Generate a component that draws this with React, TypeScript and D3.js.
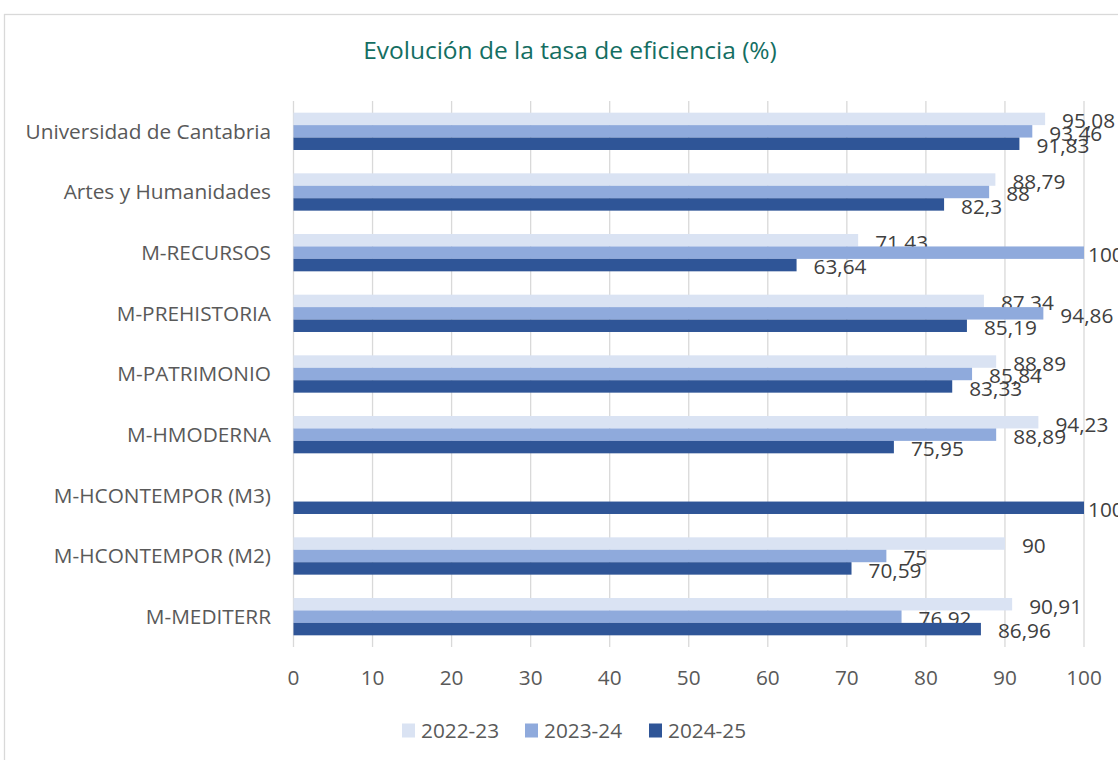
import React, { useEffect, useRef } from "react";
import * as d3 from "d3";

const categories = [
  "Universidad de Cantabria",
  "Artes y Humanidades",
  "M-RECURSOS",
  "M-PREHISTORIA",
  "M-PATRIMONIO",
  "M-HMODERNA",
  "M-HCONTEMPOR (M3)",
  "M-HCONTEMPOR (M2)",
  "M-MEDITERR",
];

const seriesNames = ["2022-23", "2023-24", "2024-25"];

const values2223 = [95.08, 88.79, 71.43, 87.34, 88.89, 94.23, null, 90, 90.91];
const values2324 = [93.46, 88, 100, 94.86, 85.84, 88.89, null, 75, 76.92];
const values2425 = [91.83, 82.3, 63.64, 85.19, 83.33, 75.95, 100, 70.59, 86.96];

const xTicks = [0, 10, 20, 30, 40, 50, 60, 70, 80, 90, 100];

const colors = ["#DAE3F3", "#8FAADC", "#2F5597"];

const W = 1118;
const H = 760;
const FONT = "'Open Sans', 'Segoe UI', sans-serif";
const FS = 20.8;

const App = () => {
  const svgRef = useRef<SVGSVGElement>(null);

  useEffect(() => {
    const svg = d3.select(svgRef.current);
    svg.selectAll("*").remove();

    const allSeries = [values2223, values2324, values2425];
    const margin = { top: 101, left: 293.5, right: 1084, bottom: 647 };

    const x = d3.scaleLinear().domain([0, 100]).range([margin.left, margin.right]);
    const y = d3
      .scaleBand()
      .domain(categories)
      .range([margin.top, margin.bottom])
      .paddingInner(0.385)
      .paddingOuter(0.1925);
    const ys = d3.scaleBand().domain(seriesNames).range([0, y.bandwidth()]);

    // chart border
    svg.append("rect")
      .attr("x", 4.5).attr("y", 14.5)
      .attr("width", W + 20).attr("height", H + 20)
      .attr("fill", "none").attr("stroke", "#D9D9D9").attr("stroke-width", 1.3);

    svg.append("text")
      .attr("x", 570).attr("y", 59)
      .attr("text-anchor", "middle")
      .attr("font-family", FONT).attr("font-size", 24.5)
      .attr("fill", "#146E62")
      .text("Evolución de la tasa de eficiencia (%)");

    // gridlines
    svg.append("g")
      .selectAll("line")
      .data(xTicks)
      .join("line")
      .attr("x1", (d) => x(d)).attr("x2", (d) => x(d))
      .attr("y1", margin.top).attr("y2", margin.bottom)
      .attr("stroke", "#D9D9D9").attr("stroke-width", 1.3);

    // x tick labels
    svg.append("g")
      .selectAll("text")
      .data(xTicks)
      .join("text")
      .attr("x", (d) => x(d)).attr("y", 678)
      .attr("dy", "0.35em")
      .attr("text-anchor", "middle")
      .attr("font-family", FONT).attr("font-size", FS)
      .attr("fill", "#595959")
      .text((d) => d);

    // category labels
    svg.append("g")
      .selectAll("text")
      .data(categories)
      .join("text")
      .attr("x", 271)
      .attr("y", (d) => (y(d) as number) + y.bandwidth() / 2)
      .attr("dy", "0.35em")
      .attr("text-anchor", "end")
      .attr("font-family", FONT).attr("font-size", FS)
      .attr("fill", "#595959")
      .text((d) => d);

    const fmt = (v: number) => String(v).replace(".", ",");

    allSeries.forEach((vals, si) => {
      const s = seriesNames[si];
      const items = categories
        .map((c, i) => ({ c, v: vals[i] }))
        .filter((d) => d.v !== null) as { c: string; v: number }[];

      svg.append("g")
        .selectAll("rect")
        .data(items)
        .join("rect")
        .attr("x", x(0))
        .attr("y", (d) => (y(d.c) as number) + (ys(s) as number))
        .attr("width", (d) => x(d.v) - x(0))
        .attr("height", ys.bandwidth())
        .attr("fill", colors[si]);

      svg.append("g")
        .selectAll("text")
        .data(items)
        .join("text")
        .attr("x", (d) => Math.min(x(d.v) + 17, x(100) + 4))
        .attr("y", (d) => (y(d.c) as number) + (ys(s) as number) + ys.bandwidth() / 2 + 2)
        .attr("dy", "0.35em")
        .attr("font-family", FONT).attr("font-size", FS)
        .attr("fill", "#404040")
        .text((d) => fmt(d.v));
    });

    // legend
    const legendX = [402, 525, 649];
    const lg = svg.append("g");
    seriesNames.forEach((s, i) => {
      lg.append("rect")
        .attr("x", legendX[i]).attr("y", 723.5)
        .attr("width", 13).attr("height", 14)
        .attr("fill", colors[i]);
      lg.append("text")
        .attr("x", legendX[i] + 19).attr("y", 731)
        .attr("dy", "0.35em")
        .attr("font-family", FONT).attr("font-size", FS)
        .attr("fill", "#595959")
        .text(s);
    });
  }, []);

  return (
    <svg
      ref={svgRef}
      width={W}
      height={H}
      style={{ position: "absolute", left: 0, top: 0, background: "#fff" }}
    />
  );
};

export default App;
